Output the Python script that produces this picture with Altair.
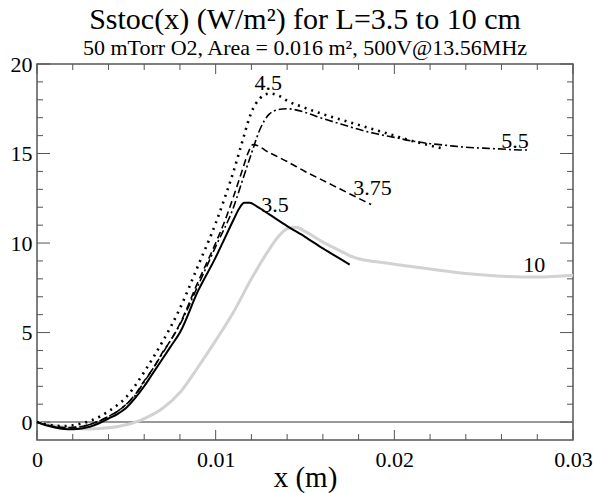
import altair as alt
import pandas as pd

# ---------------- data ----------------
x_35 = [0, 0.0005, 0.001, 0.0015, 0.002, 0.0025, 0.003, 0.0035, 0.004, 0.0045, 0.005, 0.0055,
        0.006, 0.0065, 0.007, 0.0075, 0.008, 0.009, 0.010, 0.0105, 0.011, 0.0113, 0.0116,
        0.0119, 0.0123, 0.013, 0.014, 0.015, 0.016, 0.017, 0.0175]
y_35 = [0, -0.18, -0.3, -0.38, -0.4, -0.36, -0.25, -0.05, 0.2, 0.45, 0.8, 1.35,
        2.0, 2.75, 3.5, 4.25, 5.0, 7.3, 9.2, 10.25, 11.3, 11.9, 12.25,
        12.25, 12.05, 11.6, 10.95, 10.35, 9.7, 9.1, 8.8]

x_375 = [0, 0.0005, 0.001, 0.0015, 0.002, 0.0025, 0.003, 0.0035, 0.004, 0.0045, 0.005, 0.0055,
         0.006, 0.0065, 0.007, 0.0075, 0.008, 0.009, 0.010, 0.0105, 0.011, 0.0115, 0.0118,
         0.0121, 0.013, 0.014, 0.015, 0.016, 0.017, 0.018, 0.0187]
y_375 = [0, -0.15, -0.25, -0.3, -0.3, -0.25, -0.12, 0.08, 0.32, 0.6, 1.0, 1.55,
         2.3, 3.0, 3.85, 4.6, 5.5, 7.8, 10.0, 11.2, 12.6, 14.1, 15.0,
         15.5, 15.05, 14.55, 14.0, 13.5, 13.0, 12.5, 12.15]

x_45 = [0, 0.0005, 0.001, 0.0015, 0.002, 0.0025, 0.003, 0.0035, 0.004, 0.0045, 0.005, 0.0055,
        0.006, 0.0065, 0.007, 0.0075, 0.008, 0.009, 0.010, 0.0105, 0.011, 0.0115, 0.012,
        0.0125, 0.013, 0.0135, 0.014, 0.015, 0.016, 0.017, 0.018, 0.019, 0.020, 0.021,
        0.022, 0.0226]
y_45 = [0, -0.12, -0.2, -0.22, -0.18, -0.08, 0.08, 0.3, 0.6, 0.95, 1.4, 2.05,
        2.8, 3.6, 4.45, 5.35, 6.35, 8.7, 11.1, 12.5, 14.0, 15.7, 17.3,
        18.1, 18.35, 18.25, 17.95, 17.55, 17.2, 16.9, 16.6, 16.3, 16.0, 15.7,
        15.45, 15.3]

x_55 = [0, 0.0005, 0.001, 0.0015, 0.002, 0.0025, 0.003, 0.0035, 0.004, 0.0045, 0.005, 0.0055,
        0.006, 0.0065, 0.007, 0.0075, 0.008, 0.009, 0.010, 0.011, 0.0115, 0.012, 0.0125,
        0.013, 0.0135, 0.014, 0.015, 0.016, 0.017, 0.018, 0.019, 0.020, 0.021, 0.022,
        0.023, 0.024, 0.025, 0.026, 0.027, 0.0275]
y_55 = [0, -0.15, -0.27, -0.32, -0.3, -0.24, -0.12, 0.06, 0.3, 0.6, 1.0, 1.5,
        2.25, 3.0, 3.8, 4.6, 5.45, 7.6, 9.8, 12.0, 13.5, 15.0, 16.4,
        17.2, 17.45, 17.5, 17.3, 16.95, 16.65, 16.35, 16.1, 15.9, 15.7, 15.55,
        15.45, 15.35, 15.3, 15.25, 15.2, 15.2]

x_10 = [0, 0.001, 0.002, 0.003, 0.004, 0.005, 0.0055, 0.006, 0.007, 0.008, 0.009, 0.010,
        0.011, 0.012, 0.013, 0.0135, 0.014, 0.0145, 0.015, 0.016, 0.017, 0.0175, 0.018,
        0.019, 0.020, 0.022, 0.024, 0.026, 0.028, 0.030]
y_10 = [0, -0.2, -0.33, -0.38, -0.32, -0.15, 0.0, 0.2, 0.75, 1.65, 3.05, 4.55,
        6.15, 8.0, 9.65, 10.35, 10.8, 10.88, 10.65, 10.05, 9.55, 9.3, 9.12,
        8.95, 8.82, 8.55, 8.3, 8.15, 8.1, 8.2]

label_text = ["4.5", "3.5", "3.75", "5.5", "10"]
label_x = [0.01294, 0.01332, 0.01878, 0.02675, 0.02783]
label_y = [18.93, 12.14, 13.07, 15.71, 8.76]

title_text = "Sstoc(x) (W/m\u00b2) for L=3.5 to 10 cm"
subtitle_text = "50 mTorr O2, Area = 0.016 m\u00b2, 500V@13.56MHz"
x_title = "x (m)"

x_major = [0, 0.01, 0.02, 0.03]
x_minor = [0.002, 0.004, 0.006, 0.008, 0.012, 0.014, 0.016, 0.018,
           0.022, 0.024, 0.026, 0.028]
y_major = [0, 5, 10, 15, 20]
y_minor = [1, 2, 3, 4, 6, 7, 8, 9, 11, 12, 13, 14, 16, 17, 18, 19]
zero_y = [0]

# ---------------- style ----------------
FONT = "Liberation Serif, Times New Roman, Times, DejaVu Serif, serif"
AX = "#555555"
W, H = 536, 376
X_DOM = [0, 0.03]
Y_DOM = [-1, 20]
xs = alt.Scale(domain=X_DOM, nice=False, zero=False)
ys = alt.Scale(domain=Y_DOM, nice=False, zero=False)

X_AXIS = alt.Axis(values=x_major, ticks=False, domain=False, grid=False,
                  labelFont=FONT, labelFontSize=22, labelColor="black",
                  labelPadding=9, labelFlush=False,
                  labelExpr="datum.value == 0 ? '0' : format(datum.value, '.2f')",
                  title=x_title, titleFont=FONT, titleFontSize=29,
                  titleFontWeight="normal", titleColor="black", titlePadding=-7)
Y_AXIS = alt.Axis(values=y_major, ticks=False, domain=False, grid=False,
                  labelFont=FONT, labelFontSize=22, labelColor="black",
                  labelPadding=5, labelFlush=False, format="d", title="")


def X(field):
    return alt.X(field, scale=xs, axis=X_AXIS)


def Y(field):
    return alt.Y(field, scale=ys, axis=Y_AXIS)


def series(xv, yv):
    return pd.DataFrame({"x": xv, "y": yv})


def line(df, color, width, dash=None):
    kw = dict(color=color, strokeWidth=width, interpolate="monotone")
    if dash:
        kw["strokeDash"] = dash
    return alt.Chart(df).mark_line(**kw).encode(x=X("x:Q"), y=Y("y:Q"))


def xticks(values, size, top):
    df = pd.DataFrame({"v": values})
    y0, y1 = (0, size) if top else (H - size, H)
    return alt.Chart(df).mark_rule(color=AX, strokeWidth=1).encode(
        x=X("v:Q"), y=alt.value(y0), y2=alt.value(y1),
    )


def yticks(values, size, right):
    df = pd.DataFrame({"v": values})
    x0, x1 = (W - size, W) if right else (0, size)
    return alt.Chart(df).mark_rule(color=AX, strokeWidth=1).encode(
        y=Y("v:Q"), x=alt.value(x0), x2=alt.value(x1),
    )


zero_df = pd.DataFrame({"x": [0], "y": zero_y})

ticks = [
    xticks(x_major, 10, False), xticks(x_minor, 6, False),
    xticks(x_major, 10, True), xticks(x_minor, 6, True),
    yticks(y_major, 13, False), yticks(y_minor, 6, False),
    yticks(y_major, 13, True), yticks(y_minor, 6, True),
]

zero_rule = alt.Chart(zero_df).mark_rule(color="#777777", strokeWidth=1.5).encode(
    y=Y("y:Q")
)

lines = [
    line(series(x_10, y_10), "#d2d2d2", 3),
    line(series(x_35, y_35), "black", 2),
    line(series(x_375, y_375), "black", 1.6, [7, 4]),
    line(series(x_55, y_55), "black", 1.6, [8, 3, 2, 3]),
    line(series(x_45, y_45), "black", 2.6, [2, 5]),
]

labels = alt.Chart(pd.DataFrame({"t": label_text, "x": label_x, "y": label_y})).mark_text(
    font=FONT, fontSize=22, color="black", align="center", baseline="middle"
).encode(x=X("x:Q"), y=Y("y:Q"), text="t:N")

chart = alt.layer(zero_rule, *ticks, *lines, labels).properties(
    width=W,
    height=H,
    autosize=alt.AutoSizeParams(type="none"),
    padding={"left": 37, "top": 64, "right": 20, "bottom": 53},
    title=alt.TitleParams(
        text=title_text, subtitle=subtitle_text, font=FONT, fontSize=30,
        fontWeight="normal", color="black", subtitleFont=FONT, subtitleFontSize=22,
        subtitleColor="black", anchor="middle", frame="group", offset=-6,
        subtitlePadding=3,
    ),
).configure_view(stroke=AX, strokeWidth=1.5)

chart.save("out.html", embed_options={"renderer": "svg", "actions": False})
